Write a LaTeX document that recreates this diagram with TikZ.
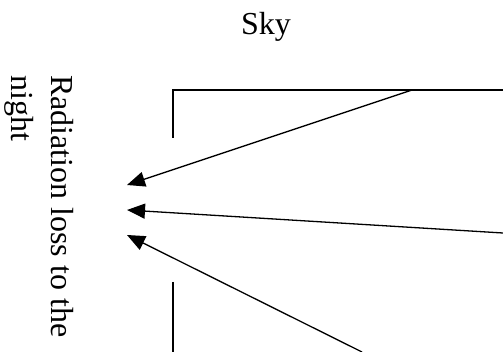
\documentclass[tikz,border=0pt]{standalone}
\usepackage{fontspec}
\setmainfont{Liberation Serif}
\usetikzlibrary{arrows.meta}

\tikzset{
    wall/.style={line width=1.4pt},
    ray/.style={line width=1.3pt, -{Triangle[length=18pt,width=15pt]}}
}

\begin{document}
\begin{tikzpicture}[x=1pt, y=-1pt]
        \useasboundingbox (0,0) rectangle (503,352);

        % openings of the enclosure
        \draw[wall] (173,138) -- (173,90) -- (503,90);
        \draw[wall] (173,282) -- (173,352);

        \node[
            anchor=base,
            inner sep=0pt,
            font=\fontsize{32}{40}\selectfont
        ] (sky) at (266,35) {Sky};

        \node[
            rotate=-90,
            anchor=north west,
            inner sep=0pt,
            align=left,
            font=\fontsize{32}{40}\selectfont
        ] (loss) at (74,75) {
            Radiation loss to the\\
            night
        };

        \coordinate (topsrc) at (412,90);
        \coordinate (midsrc) at (503,233);
        \coordinate (lowsrc) at (362,352);
        \coordinate (toptip) at (127,185);
        \coordinate (midtip) at (127,210);
        \coordinate (lowtip) at (127,235);

        \draw[ray] (topsrc) -- (toptip);
        \draw[ray] (midsrc) -- (midtip);
        \draw[ray] (lowsrc) -- (lowtip);
    \end{tikzpicture}
\end{document}
